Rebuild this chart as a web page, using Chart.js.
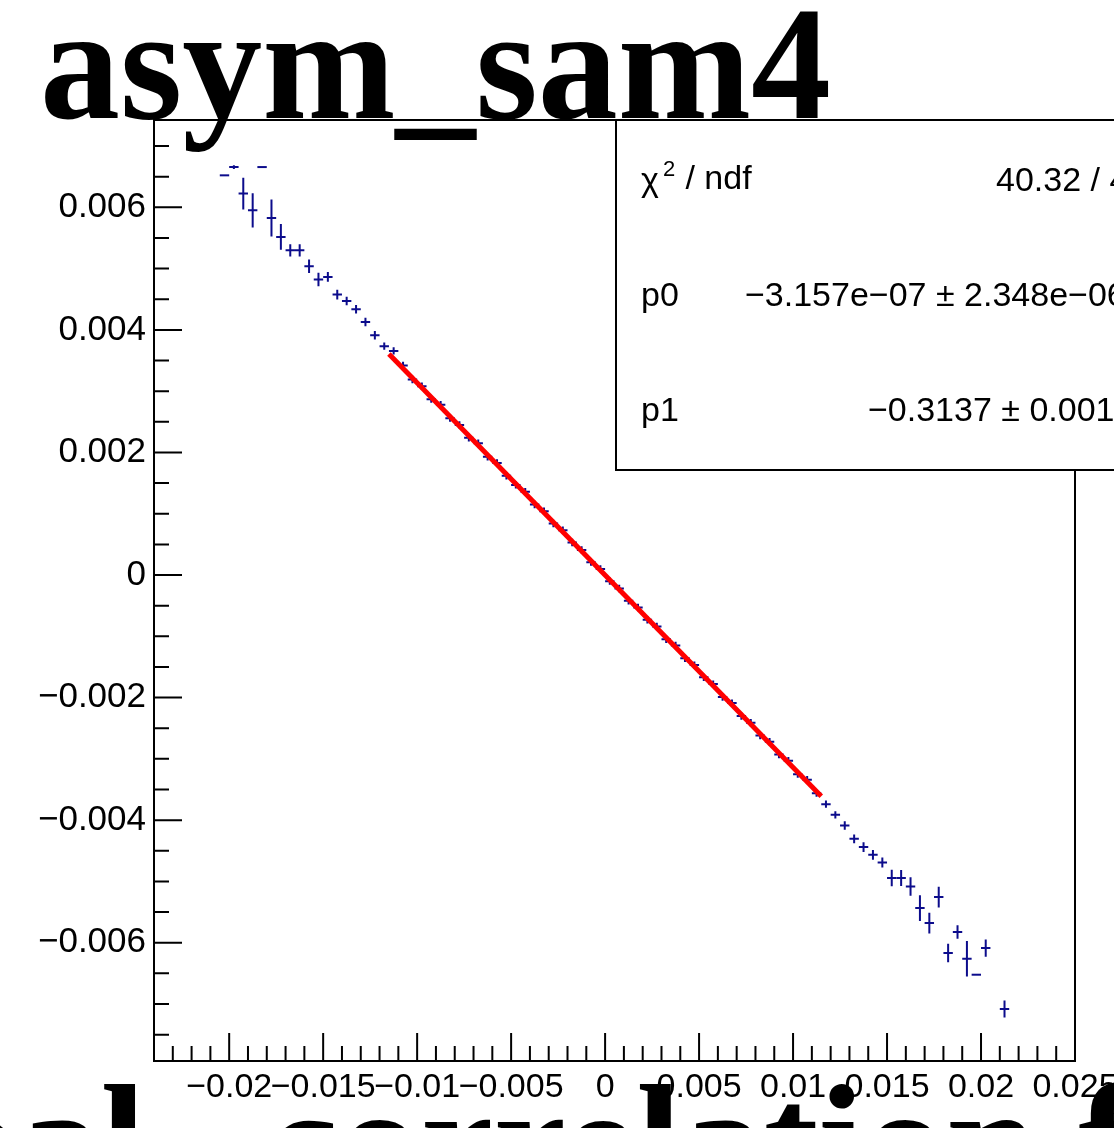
<!DOCTYPE html>
<html>
<head>
<meta charset="utf-8">
<script src="https://cdn.jsdelivr.net/npm/chart.js@4.4.0/dist/chart.umd.min.js"></script>
<style>
html, body { margin: 0; padding: 0; background: #fff; overflow: hidden; }
#wrap { width: 1114px; height: 1128px; }
</style>
</head>
<body>
<div id="wrap"><canvas id="myChart" width="1114" height="1128"></canvas></div>
<script>
'use strict';

// profile bins: centre, mean and error
var binX = [
    -0.02025, -0.01975, -0.01925, -0.01875, -0.01825, -0.01775, -0.01725, -0.01675, -0.01625, -0.01575,
    -0.01525, -0.01475, -0.01425, -0.01375, -0.01325, -0.01275, -0.01225, -0.01175, -0.01125,
    -0.01075, -0.01025, -0.00975, -0.00925, -0.00875, -0.00825, -0.00775, -0.00725, -0.00675, -0.00625,
    -0.00575, -0.00525, -0.00475, -0.00425, -0.00375, -0.00325, -0.00275, -0.00225, -0.00175, -0.00125,
    -0.00075, -0.00025, 0.00025, 0.00075, 0.00125, 0.00175, 0.00225, 0.00275, 0.00325, 0.00375,
    0.00425, 0.00475, 0.00525, 0.00575, 0.00625, 0.00675, 0.00725, 0.00775, 0.00825, 0.00875,
    0.00925, 0.00975, 0.01025, 0.01075, 0.01125,
    0.01175, 0.01225, 0.01275, 0.01325, 0.01375, 0.01425, 0.01475, 0.01525, 0.01575, 0.01625,
    0.01675, 0.01725, 0.01775, 0.01825, 0.01875, 0.01925, 0.01975, 0.02025, 0.02125
];
var binY = [
    0.006522, 0.006657, 0.006224, 0.005951, 0.006657, 0.005826, 0.005516, 0.005299, 0.005299, 0.005038,
    0.004821, 0.004864, 0.004577, 0.004472, 0.004337, 0.004130, 0.003913, 0.003734, 0.003657,
    0.00342, 0.00319, 0.00308, 0.00287, 0.00278, 0.00256, 0.00245, 0.00224, 0.00215, 0.00193,
    0.00183, 0.00162, 0.00147, 0.00136, 0.00115, 0.00104, 0.00084, 0.00073, 0.00053, 0.00041,
    0.00021, 0.00010, -0.00010, -0.00022, -0.00042, -0.00053, -0.00073, -0.00084, -0.00105, -0.00115,
    -0.00136, -0.00147, -0.00167, -0.00178, -0.00199, -0.00209, -0.00230, -0.00241, -0.00262, -0.00272,
    -0.00293, -0.00303, -0.00325, -0.00334, -0.00356,
    -0.003739, -0.003913, -0.004088, -0.004305, -0.004440, -0.004565, -0.004691, -0.004945, -0.004945, -0.005082,
    -0.005435, -0.005679, -0.005255, -0.006168, -0.005826, -0.006261, -0.006522, -0.006087, -0.007081
];
var binErr = [
    0, 0.00003, 0.00026, 0.00028, 0, 0.00030, 0.00021, 0.00010, 0.00010, 0.00011,
    0.00011, 0.00008, 0.00008, 0.00007, 0.00007, 0.00007, 0.00007, 0.00006, 0.00006,
    0.00006, 0.00006, 0.00006, 0.00006, 0.00006, 0.00006, 0.00006, 0.00006, 0.00006, 0.00006,
    0.00006, 0.00006, 0.00006, 0.00006, 0.00006, 0.00006, 0.00006, 0.00006, 0.00006, 0.00006,
    0.00006, 0.00006, 0.00006, 0.00006, 0.00006, 0.00006, 0.00006, 0.00006, 0.00006, 0.00006,
    0.00006, 0.00006, 0.00006, 0.00006, 0.00006, 0.00006, 0.00006, 0.00006, 0.00006, 0.00006,
    0.00006, 0.00006, 0.00006, 0.00006, 0.00006,
    0.00006, 0.00006, 0.00007, 0.00007, 0.00008, 0.00008, 0.00008, 0.000135, 0.00013, 0.00015,
    0.00021, 0.00017, 0.00017, 0.00015, 0.00011, 0.00029, 0, 0.00014, 0.00014
];
var binHalfWidth = 0.00025;

// pol1 fit, drawn over the fit range
var fitX = [-0.0115, 0.0115];
var fitY = [0.003608, -0.003608];

var xTicks = [-0.02, -0.015, -0.01, -0.005, 0, 0.005, 0.01, 0.015, 0.02, 0.025];
var yTicks = [-0.006, -0.004, -0.002, 0, 0.002, 0.004, 0.006];

var statNames = ['p0', 'p1'];
var statValues = ['40.32 / 44', '\u22123.157e\u221207 \u00b1 2.348e\u221206', '\u22120.3137 \u00b1 0.0016'];

var titleText = 'asym_sam4';
var xTitleLeft = 'Global';
var xTitleRight = 'correlation fit';

var navy = 'rgb(12, 12, 140)';

function rootLabel(v) {
    if (Math.abs(v) < 1e-12) { return '0'; }
    return String(+v.toFixed(4)).replace('-', '\u2212');
}

var rootFrame = {
    id: 'rootFrame',
    beforeDatasetsDraw: function (chart) {
        var ctx = chart.ctx;
        var xs = chart.scales.x;
        var ys = chart.scales.y;
        var pts = chart.getDatasetMeta(1).data;
        ctx.save();
        ctx.strokeStyle = navy;
        ctx.lineWidth = 2;
        for (var i = 0; i < pts.length; i++) {
            var px = pts[i].x, py = pts[i].y;
            var x0 = xs.getPixelForValue(binX[i] - binHalfWidth);
            var x1 = xs.getPixelForValue(binX[i] + binHalfWidth);
            var y0 = ys.getPixelForValue(binY[i] + binErr[i]);
            var y1 = ys.getPixelForValue(binY[i] - binErr[i]);
            ctx.beginPath();
            ctx.moveTo(x0, py); ctx.lineTo(x1, py);
            if (binErr[i] > 0) { ctx.moveTo(px, y0); ctx.lineTo(px, y1); }
            ctx.stroke();
        }
        ctx.restore();
    },
    afterDraw: function (chart) {
        var ctx = chart.ctx;
        var a = chart.chartArea;
        var xs = chart.scales.x;
        var ys = chart.scales.y;
        var k, p, len;
        ctx.save();
        ctx.strokeStyle = '#000';
        ctx.lineWidth = 2;
        ctx.strokeRect(a.left, a.top, a.right - a.left, a.bottom - a.top);

        // ticks inside the frame, ROOT style
        ctx.beginPath();
        for (k = -24; k <= 25; k++) {
            p = xs.getPixelForValue(k * 0.001);
            len = (k % 5 === 0) ? 28 : 15;
            ctx.moveTo(p, a.bottom); ctx.lineTo(p, a.bottom - len);
        }
        for (k = -15; k <= 14; k++) {
            p = ys.getPixelForValue(k * 0.0005);
            len = (k % 4 === 0) ? 28 : 15;
            ctx.moveTo(a.left, p); ctx.lineTo(a.left + len, p);
        }
        ctx.stroke();

        // stats box
        ctx.fillStyle = '#fff';
        ctx.fillRect(616, 120, 520, 350);
        ctx.strokeRect(616, 120, 520, 350);
        ctx.fillStyle = '#000';
        ctx.textBaseline = 'middle';
        ctx.textAlign = 'left';
        ctx.font = '34px "Liberation Sans"';
        ctx.fillText('\u03c7', 641, 182);
        ctx.font = '22px "Liberation Sans"';
        ctx.fillText('2', 663, 170);
        ctx.font = '34px "Liberation Sans"';
        ctx.fillText(' / ndf', 676, 180);
        ctx.fillText(statNames[0], 641, 297);
        ctx.fillText(statNames[1], 641, 412);
        ctx.fillText(statValues[0], 996, 182);
        ctx.fillText(statValues[1], 745, 297);
        ctx.fillText(statValues[2], 868, 412);

        // histogram title and x-axis title
        ctx.textBaseline = 'alphabetic';
        ctx.font = 'bold 160px "Liberation Serif"';
        ctx.fillText(titleText, 40, 118);
        ctx.font = 'bold 164px "Liberation Serif"';
        ctx.textAlign = 'right';
        ctx.fillText(xTitleLeft, 146, 1197);
        ctx.textAlign = 'left';
        ctx.fillText(xTitleRight, 266, 1197);
        ctx.restore();
    }
};

var ctx = document.getElementById('myChart').getContext('2d');
var points = binX.map(function (x, i) { return {x: x, y: binY[i]}; });
var fitLine = fitX.map(function (x, i) { return {x: x, y: fitY[i]}; });

var myChart = new Chart(ctx, {
    type: 'scatter',
    data: {
        datasets: [{
            data: fitLine,
            showLine: true,
            borderColor: 'rgb(255, 0, 0)',
            borderWidth: 5,
            pointRadius: 0,
            order: 0
        }, {
            data: points,
            pointRadius: 0,
            borderColor: navy,
            backgroundColor: navy,
            order: 1
        }]
    },
    options: {
        responsive: false,
        animation: false,
        devicePixelRatio: 1,
        layout: {padding: {top: 120, right: 39, left: 0, bottom: 0}},
        plugins: {
            legend: {display: false},
            tooltip: {enabled: false},
            title: {display: false}
        },
        scales: {
            x: {
                type: 'linear',
                min: -0.024,
                max: 0.025,
                grid: {display: false, drawTicks: false},
                border: {display: false},
                afterBuildTicks: function (scale) {
                    scale.ticks = xTicks.map(function (v) { return {value: v}; });
                },
                afterFit: function (scale) {
                    scale.height = 67;
                    scale.paddingLeft = 0;
                    scale.paddingRight = 0;
                },
                ticks: {
                    autoSkip: false,
                    maxRotation: 0,
                    minRotation: 0,
                    padding: 6,
                    color: '#000',
                    font: {family: 'Liberation Sans', size: 34},
                    callback: rootLabel
                }
            },
            y: {
                type: 'linear',
                min: -0.00793,
                max: 0.007425,
                grid: {display: false, drawTicks: false},
                border: {display: false},
                afterBuildTicks: function (scale) {
                    scale.ticks = yTicks.map(function (v) { return {value: v}; });
                },
                afterFit: function (scale) {
                    scale.width = 154;
                    scale.paddingTop = 0;
                    scale.paddingBottom = 0;
                },
                ticks: {
                    padding: 8,
                    color: '#000',
                    font: {family: 'Liberation Sans', size: 35},
                    callback: rootLabel
                }
            }
        }
    },
    plugins: [rootFrame]
});
</script>
</body>
</html>
